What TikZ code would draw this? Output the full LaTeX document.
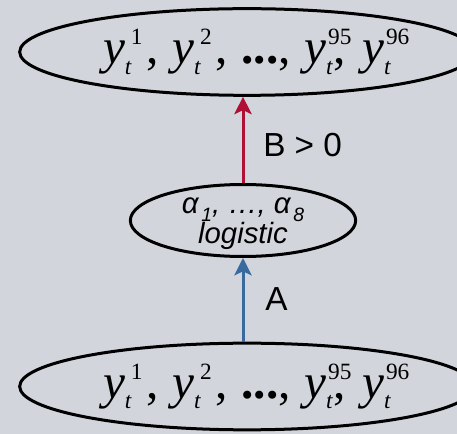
\documentclass[tikz,border=0pt]{standalone}
\usepackage{fontspec}
\setmainfont{Liberation Sans}
\newfontfamily\serifface{Liberation Serif}
\usetikzlibrary{arrows.meta, calc, shapes.geometric}

\definecolor{panelgrey}{RGB}{210,213,220}
\definecolor{posred}{RGB}{176,16,54}
\definecolor{linkblue}{RGB}{56,106,160}

\newcommand{\supsize}{\fontsize{17.5}{17.5}\selectfont}
% y^k_t, superscript counted in the width
\newcommand{\ywide}[1]{\textit{y}\rlap{\raisebox{-8pt}{\supsize\textit{t}}}\hspace{4.5pt}\raisebox{14pt}{\supsize #1}\hspace{3pt}}
% y^k_t, superscript hanging over what follows
\newcommand{\yhang}[1]{\textit{y}\rlap{\hspace{1.5pt}\raisebox{14pt}{\supsize #1}}\raisebox{-8pt}{\supsize\textit{t}}}
\newcommand{\yseries}{{\serifface\fontsize{37}{37}\selectfont
  \ywide{1},\hspace{10pt}\ywide{2},\hspace{10pt}{\bfseries...},\hspace{10pt}\yhang{95},\hspace{12.5pt}\yhang{96}}}
\newcommand{\subidx}[1]{\raisebox{-6pt}{\fontsize{14.5}{14.5}\selectfont #1}}
% text block that leaves the ellipse at its minimum size
\newcommand{\flatblock}[1]{\raisebox{-7pt}[0pt][0pt]{\begin{tabular}{@{}c@{}}#1\end{tabular}}}

\begin{document}
\begin{tikzpicture}[x=0.75pt, y=-0.75pt, >={Stealth[length=13pt, width=13pt, inset=3pt]},
  every node/.style={inner sep=0pt},
  obs/.style={draw, ellipse, line width=2.25pt, minimum width=341pt, minimum height=65pt},
  latent/.style={draw, ellipse, line width=2.25pt, minimum width=169pt, minimum height=54pt,
    font=\fontsize{22}{20.5}\selectfont\itshape},
  lbl/.style={font=\fontsize{25}{25}\selectfont, anchor=west}]
  \fill[panelgrey] (0,0) rectangle (457,434);
  \clip (0,0) rectangle (457,434);
  \node[obs] (top) at (247,52) {\yseries};
  \node[latent] (mid) at (243,220.5) {\flatblock{α\hspace{2pt}\subidx{1}, …, α\hspace{2pt}\subidx{8}\\logistic}};
  \node[obs] (bot) at (247,386.5) {\yseries};
  \draw[->, posred, line width=2.25pt] (mid.north) -- (mid.north |- top.south);
  \draw[->, linkblue, line width=2.25pt] (mid.south |- bot.north) -- (mid.south);
  \node[lbl] (bgt) at (263,145) {B > 0};
  \node[lbl] (alab) at (265,299) {A};
\end{tikzpicture}
\end{document}
